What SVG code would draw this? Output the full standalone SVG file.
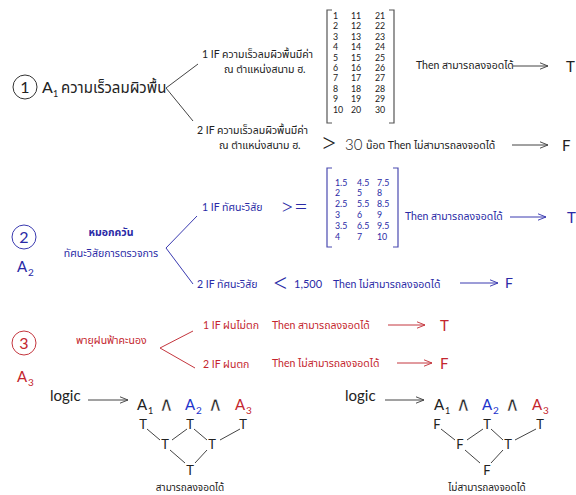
<svg xmlns="http://www.w3.org/2000/svg" width="576" height="495" viewBox="0 0 576 495">
<defs>
<style>
text{font-family:"Lato","Noto Sans","Noto Sans Thai","Loma","Garuda",sans-serif}
.k{fill:#222}.b{fill:#2a2aa6}.bb{fill:#2233cc}.r{fill:#c4262e}
.s{font-size:10.5px}.m{font-size:8.8px}.big{font-size:16px}
.w{font-family:"DejaVu Sans",sans-serif;font-size:20px;stroke:#fff;stroke-width:0.35px}
.op{font-weight:300}
.ln{fill:none;stroke-width:1}
.lk{stroke:#444}.lb{stroke:#3a3ab0}.lr{stroke:#c4363e}
.mx{fill:none;stroke:#555;stroke-width:1.2}
</style>
<marker id="ak" viewBox="0 0 10 10" refX="10" refY="5" markerWidth="8" markerHeight="8" markerUnits="userSpaceOnUse" orient="auto"><path d="M0,1 L10,5 L0,9" fill="none" stroke="#444" stroke-width="1.2"/></marker>
<marker id="ab" viewBox="0 0 10 10" refX="10" refY="5" markerWidth="8" markerHeight="8" markerUnits="userSpaceOnUse" orient="auto"><path d="M0,1 L10,5 L0,9" fill="none" stroke="#3a3ab0" stroke-width="1.2"/></marker>
<marker id="ar" viewBox="0 0 10 10" refX="10" refY="5" markerWidth="8" markerHeight="8" markerUnits="userSpaceOnUse" orient="auto"><path d="M0,1 L10,5 L0,9" fill="none" stroke="#c4363e" stroke-width="1.2"/></marker>
</defs>
<rect width="576" height="495" fill="#fff"/>

<g id="connectors">
<path class="ln lk" d="M166,88 L198,64 M166,88 L193,121"/>
<line class="ln lk" x1="513" y1="66" x2="548" y2="66" marker-end="url(#ak)"/>
<line class="ln lk" x1="512" y1="145" x2="548" y2="145" marker-end="url(#ak)"/>
<path class="ln lb" d="M166,248 L197,216 M166,248 L193,284"/>
<line class="ln lb" x1="510" y1="217" x2="546" y2="217" marker-end="url(#ab)"/>
<line class="ln lb" x1="460" y1="283" x2="498" y2="283" marker-end="url(#ab)"/>
<path class="ln lr" d="M160,348 L193,331 M160,348 L195,368"/>
<line class="ln lr" x1="388" y1="325" x2="425" y2="325" marker-end="url(#ar)"/>
<line class="ln lr" x1="397" y1="363" x2="432" y2="363" marker-end="url(#ar)"/>
<line class="ln lk" x1="88" y1="400" x2="128" y2="400" marker-end="url(#ak)"/>
<line class="ln lk" x1="385" y1="400" x2="424" y2="400" marker-end="url(#ak)"/>
<path class="ln lk" d="M147,429 L160,440 M187,429 L172,440 M194,429 L207,440 M240,429 L220,440 M170,450 L185,463 M207,450 L195,463"/>
<path class="ln lk" d="M441,429 L455,440 M483,429 L467,440 M491,429 L503,440 M536,429 L515,440 M465,450 L480,463 M503,450 L491,463"/>
</g>

<g id="node-a1">
<circle cx="25" cy="87" r="12" fill="none" stroke="#333" stroke-width="1"/>
<text class="k big" x="25" y="93" text-anchor="middle">1</text>
<text class="k big" x="42" y="93">A</text>
<text class="k" x="53" y="97" font-size="9">1</text>
<text class="k" x="61" y="93" font-size="15">ความเร็วลมผิวพื้น</text>
</g>

<g id="node-a1-if1">
<text class="k s" x="202" y="58">1 IF ความเร็วลมผิวพื้นมีค่า</text>
<text class="k s" x="224" y="73">ณ ตำแหน่งสนาม ฮ.</text>
</g>

<g id="matrix-1">
<path class="mx" d="M332,10 H327 V123 H332 M389,10 H394 V123 H389"/>
<g class="k m">
<text x="333" y="19">1</text><text x="351" y="19">11</text><text x="375" y="19">21</text>
<text x="333" y="29.4">2</text><text x="351" y="29.4">12</text><text x="375" y="29.4">22</text>
<text x="333" y="39.8">3</text><text x="351" y="39.8">13</text><text x="375" y="39.8">23</text>
<text x="333" y="50.2">4</text><text x="351" y="50.2">14</text><text x="375" y="50.2">24</text>
<text x="333" y="60.6">5</text><text x="351" y="60.6">15</text><text x="375" y="60.6">25</text>
<text x="333" y="71">6</text><text x="351" y="71">16</text><text x="375" y="71">26</text>
<text x="333" y="81.4">7</text><text x="351" y="81.4">17</text><text x="375" y="81.4">27</text>
<text x="333" y="91.8">8</text><text x="351" y="91.8">18</text><text x="375" y="91.8">28</text>
<text x="333" y="102.2">9</text><text x="351" y="102.2">19</text><text x="375" y="102.2">29</text>
<text x="333" y="112.6">10</text><text x="351" y="112.6">20</text><text x="375" y="112.6">30</text>
</g>
</g>

<g id="node-a1-then1">
<text class="k s" x="416" y="69">Then สามารถลงจอดได้</text>
<text class="k" x="566" y="72" font-size="15">T</text>
</g>

<g id="node-a1-if2">
<text class="k s" x="197" y="134">2 IF ความเร็วลมผิวพื้นมีค่า</text>
<text class="k s" x="219" y="149">ณ ตำแหน่งสนาม ฮ.</text>
<text class="k op" x="320" y="153" font-size="30">&gt;</text>
<text class="k op" x="345" y="150" font-size="15">30</text>
<text class="k s" x="366" y="149">น๊อต Then ไม่สามารถลงจอดได้</text>
<text class="k" x="562" y="151" font-size="15">F</text>
</g>

<g id="node-a2">
<circle cx="24" cy="237" r="12" fill="none" stroke="#3a3ab0" stroke-width="1"/>
<text class="b big" x="24" y="243" text-anchor="middle">2</text>
<text class="b" x="17" y="272" font-size="15">A</text>
<text class="b" x="28" y="276" font-size="10">2</text>
<text class="b s" x="111" y="236" text-anchor="middle" font-weight="bold">หมอกควัน</text>
<text class="b s" x="111" y="257" text-anchor="middle">ทัศนะวิสัยการตรวจการ</text>
</g>

<g id="node-a2-if1">
<text class="b s" x="202" y="211">1 IF ทัศนะวิสัย</text>
<text class="b op" x="280" y="215" font-size="24">&gt;=</text>
</g>

<g id="matrix-2">
<path class="mx" style="stroke:#4a4ab0" d="M332,168 H327 V247 H332 M393,168 H398 V247 H393"/>
<g class="b m">
<text x="335" y="185.5">1.5</text><text x="357" y="185.5">4.5</text><text x="377" y="185.5">7.5</text>
<text x="335" y="196.3">2</text><text x="357" y="196.3">5</text><text x="377" y="196.3">8</text>
<text x="335" y="207.1">2.5</text><text x="357" y="207.1">5.5</text><text x="377" y="207.1">8.5</text>
<text x="335" y="217.9">3</text><text x="357" y="217.9">6</text><text x="377" y="217.9">9</text>
<text x="335" y="228.7">3.5</text><text x="357" y="228.7">6.5</text><text x="377" y="228.7">9.5</text>
<text x="335" y="239.5">4</text><text x="357" y="239.5">7</text><text x="377" y="239.5">10</text>
</g>
</g>

<g id="node-a2-then1">
<text class="b s" x="405" y="220">Then สามารถลงจอดได้</text>
<text class="b" x="567" y="223" font-size="15">T</text>
</g>

<g id="node-a2-if2">
<text class="b s" x="197" y="288">2 IF ทัศนะวิสัย</text>
<text class="b op" x="272" y="293" font-size="30">&lt;</text>
<text class="b" x="294" y="288" font-size="11">1,500</text>
<text class="b s" x="333" y="288">Then ไม่สามารถลงจอดได้</text>
<text class="b" x="505" y="288" font-size="14">F</text>
</g>

<g id="node-a3">
<circle cx="24" cy="343" r="12" fill="none" stroke="#c4363e" stroke-width="1"/>
<text class="r big" x="24" y="349" text-anchor="middle">3</text>
<text class="r" x="17" y="382" font-size="15">A</text>
<text class="r" x="28" y="386" font-size="10">3</text>
<text class="r s" x="76" y="344">พายุฝนฟ้าคะนอง</text>
</g>

<g id="node-a3-if1">
<text class="r s" x="203" y="329">1 IF ฝนไม่ตก</text>
<text class="r s" x="272" y="329">Then สามารถลงจอดได้</text>
<text class="r" x="440" y="331" font-size="15">T</text>
</g>

<g id="node-a3-if2">
<text class="r s" x="203" y="368">2 IF ฝนตก</text>
<text class="r s" x="272" y="367">Then ไม่สามารถลงจอดได้</text>
<text class="r" x="440" y="369" font-size="15">F</text>
</g>

<g id="logic-left">
<text class="k" x="50" y="401" font-size="15">logic</text>
<text class="k" x="137" y="410" font-size="15">A</text><text class="k" x="148" y="414" font-size="9">1</text>
<text class="k w" x="159" y="411">∧</text>
<text class="bb" x="185" y="410" font-size="15">A</text><text class="bb" x="196" y="414" font-size="10">2</text>
<text class="k w" x="208" y="411">∧</text>
<text class="r" x="235" y="410" font-size="15">A</text><text class="r" x="246" y="414" font-size="10">3</text>
<g class="k" font-size="13" text-anchor="middle">
<text x="143" y="429">T</text><text x="190" y="429">T</text><text x="243" y="429">T</text>
<text x="165" y="449">T</text><text x="212" y="449">T</text>
<text x="190" y="475">T</text>
</g>
<text class="k" x="190" y="491" font-size="10" text-anchor="middle">สามารถลงจอดได้</text>
</g>

<g id="logic-right">
<text class="k" x="345" y="401" font-size="15">logic</text>
<text class="k" x="434" y="410" font-size="15">A</text><text class="k" x="445" y="414" font-size="9">1</text>
<text class="k w" x="456" y="411">∧</text>
<text class="bb" x="482" y="410" font-size="15">A</text><text class="bb" x="493" y="414" font-size="10">2</text>
<text class="k w" x="505" y="411">∧</text>
<text class="r" x="532" y="410" font-size="15">A</text><text class="r" x="543" y="414" font-size="10">3</text>
<g class="k" font-size="13" text-anchor="middle">
<text x="437" y="429">F</text><text x="487" y="429">T</text><text x="540" y="429">T</text>
<text x="460" y="449">F</text><text x="508" y="449">T</text>
<text x="487" y="475">F</text>
</g>
<text class="k" x="487" y="491" font-size="10" text-anchor="middle">ไม่สามารถลงจอดได้</text>
</g>
</svg>
